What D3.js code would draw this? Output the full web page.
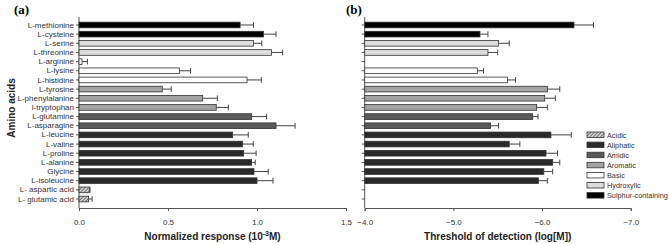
<!DOCTYPE html>
<html>
<head>
<meta charset="utf-8">
<script src="https://cdn.jsdelivr.net/npm/d3@7"></script>
<style>
  body { margin: 0; background: #fff; }
  svg text { font-family: "Liberation Sans", Arial, sans-serif; }
</style>
</head>
<body>
<div id="chart"></div>
<script>
// amino acids, top to bottom
const aminoAcids = ["L-methionine", "L-cysteine", "L-serine", "L-threonine", "L-arginine", "L-lysine",
  "L-histidine", "L-tyrosine", "L-phenylalanine", "l-tryptophan", "L-glutamine", "L-asparagine",
  "L-leucine", "L-valine", "L-proline", "L-alanine", "Glycine", "L-isoleucine",
  "L- aspartic acid", "L- glutamic acid"];
const groupOf = ["Sulphur-containing", "Sulphur-containing", "Hydroxylic", "Hydroxylic", "Basic", "Basic",
  "Basic", "Aromatic", "Aromatic", "Aromatic", "Amidic", "Amidic",
  "Aliphatic", "Aliphatic", "Aliphatic", "Aliphatic", "Aliphatic", "Aliphatic",
  "Acidic", "Acidic"];

// panel (a): normalized response
const responseA = [0.905, 1.037, 0.98, 1.082, 0.017, 0.564, 0.944, 0.468, 0.695, 0.771, 0.97, 1.107,
  0.863, 0.919, 0.925, 0.97, 0.983, 1.0, 0.058, 0.054];
const errorA = [0.075, 0.07, 0.047, 0.062, 0.03, 0.063, 0.08, 0.05, 0.082, 0.068, 0.084, 0.107,
  0.088, 0.06, 0.07, 0.02, 0.08, 0.09, 0.004, 0.02];

// panel (b): threshold of detection (null = not detected)
const thresholdB = [-6.36, -5.30, -5.51, -5.39, null, -5.27, -5.61, -6.06, -6.03, -5.94, -5.895, -5.42,
  -6.10, -5.63, -6.045, -6.12, -6.02, -5.96, null, null];
const errorB = [0.22, 0.09, 0.12, 0.11, 0, 0.07, 0.09, 0.14, 0.12, 0.12, 0.06, 0.09,
  0.23, 0.12, 0.13, 0.08, 0.10, 0.10, 0, 0];

const legendGroups = ["Acidic", "Aliphatic", "Amidic", "Aromatic", "Basic", "Hydroxylic", "Sulphur-containing"];
const groupFill = {
  "Acidic": "url(#hatch)",
  "Aliphatic": "#2a2a2a",
  "Amidic": "#5a5a5a",
  "Aromatic": "#a3a3a3",
  "Basic": "#ffffff",
  "Hydroxylic": "#dcdcdc",
  "Sulphur-containing": "#000000"
};

const ticksA = [0, 0.5, 1.0, 1.5];
const ticksB = [-4, -5, -6, -7];

const W = 669, H = 244;
const svg = d3.select("#chart").append("svg").attr("width", W).attr("height", H);

const defs = svg.append("defs");
const pat = defs.append("pattern").attr("id", "hatch").attr("patternUnits", "userSpaceOnUse")
  .attr("width", 2.5).attr("height", 2.5).attr("patternTransform", "rotate(45)");
pat.append("rect").attr("width", 2.5).attr("height", 2.5).attr("fill", "#cfcfcf");
pat.append("line").attr("x1", 0).attr("y1", 0).attr("x2", 0).attr("y2", 2.5)
  .attr("stroke", "#444").attr("stroke-width", 1.2);

const rows = aminoAcids.map((name, i) => ({ name, group: groupOf[i], a: responseA[i], ea: errorA[i], b: thresholdB[i], eb: errorB[i] }));

const y = d3.scaleBand().domain(aminoAcids).range([20.4, 203.6]).paddingInner(0.38).paddingOuter(0.19);
const yTop = 17, yBottom = 208;
const axisColor = "#555";

function styleAxis(g) {
  g.selectAll("path, line").attr("stroke", axisColor);
  g.selectAll("text").attr("fill", "#333").style("font-size", "8px");
}

// ---------- panel (a) ----------
const xA = d3.scaleLinear().domain([0, 1.5]).range([79, 346]);

const axA = svg.append("g").attr("transform", `translate(0,${yBottom})`)
  .call(d3.axisBottom(xA).tickValues(ticksA).tickFormat(d3.format(".1f")).tickSizeOuter(0).tickSize(3).tickPadding(8));
styleAxis(axA);

const ayA = svg.append("g").attr("transform", `translate(${xA(0)},0)`)
  .call(d3.axisLeft(y).tickSize(3).tickPadding(2));
ayA.select(".domain").remove();
styleAxis(ayA);
svg.append("line").attr("x1", xA(0)).attr("x2", xA(0)).attr("y1", yTop).attr("y2", yBottom).attr("stroke", axisColor);

const gA = svg.append("g");
gA.selectAll("rect").data(rows).join("rect")
  .attr("x", xA(0))
  .attr("y", d => y(d.name))
  .attr("width", d => xA(d.a) - xA(0))
  .attr("height", y.bandwidth())
  .attr("fill", d => groupFill[d.group])
  .attr("stroke", "#333").attr("stroke-width", 0.8);

const errA = gA.selectAll("g.err").data(rows).join("g").attr("class", "err");
errA.append("line")
  .attr("x1", d => xA(d.a)).attr("x2", d => xA(d.a + d.ea))
  .attr("y1", d => y(d.name) + y.bandwidth() / 2).attr("y2", d => y(d.name) + y.bandwidth() / 2)
  .attr("stroke", "#444");
errA.append("line")
  .attr("x1", d => xA(d.a + d.ea)).attr("x2", d => xA(d.a + d.ea))
  .attr("y1", d => y(d.name)).attr("y2", d => y(d.name) + y.bandwidth())
  .attr("stroke", "#444");

svg.append("text").attr("x", 14).attr("y", 14)
  .style("font-family", "'Liberation Serif', 'Times New Roman', serif")
  .style("font-weight", "bold").style("font-size", "13px").text("(a)");

svg.append("text")
  .attr("transform", `translate(15,108) rotate(-90)`)
  .attr("text-anchor", "middle")
  .style("font-weight", "bold").style("font-size", "10px").attr("fill", "#222")
  .text("Amino acids");

const labA = svg.append("text").attr("x", (xA(0) + xA(1.5)) / 2).attr("y", 240)
  .attr("text-anchor", "middle").style("font-weight", "bold").style("font-size", "10px").attr("fill", "#222");
labA.append("tspan").text("Normalized response (10");
labA.append("tspan").attr("dy", -4).style("font-size", "7px").text("-3");
labA.append("tspan").attr("dy", 4).text("M)");

// ---------- panel (b) ----------
const xB = d3.scaleLinear().domain([-4, -7]).range([364.7, 630.7]);

const axB = svg.append("g").attr("transform", `translate(0,${yBottom})`)
  .call(d3.axisBottom(xB).tickValues(ticksB).tickFormat(d3.format(".1f")).tickSizeOuter(0).tickSize(3).tickPadding(8));
styleAxis(axB);

const ayB = svg.append("g").attr("transform", `translate(${xB(-4)},0)`)
  .call(d3.axisLeft(y).tickSize(3).tickFormat(""));
ayB.select(".domain").remove();
styleAxis(ayB);
svg.append("line").attr("x1", xB(-4)).attr("x2", xB(-4)).attr("y1", yTop).attr("y2", yBottom).attr("stroke", axisColor);

const rowsB = rows.filter(d => d.b !== null);
const gB = svg.append("g");
gB.selectAll("rect").data(rowsB).join("rect")
  .attr("x", xB(-4))
  .attr("y", d => y(d.name))
  .attr("width", d => xB(d.b) - xB(-4))
  .attr("height", y.bandwidth())
  .attr("fill", d => groupFill[d.group])
  .attr("stroke", "#333").attr("stroke-width", 0.8);

const errB = gB.selectAll("g.err").data(rowsB).join("g").attr("class", "err");
errB.append("line")
  .attr("x1", d => xB(d.b)).attr("x2", d => xB(d.b - d.eb))
  .attr("y1", d => y(d.name) + y.bandwidth() / 2).attr("y2", d => y(d.name) + y.bandwidth() / 2)
  .attr("stroke", "#444");
errB.append("line")
  .attr("x1", d => xB(d.b - d.eb)).attr("x2", d => xB(d.b - d.eb))
  .attr("y1", d => y(d.name)).attr("y2", d => y(d.name) + y.bandwidth())
  .attr("stroke", "#444");

svg.append("text").attr("x", 346).attr("y", 14)
  .style("font-family", "'Liberation Serif', 'Times New Roman', serif")
  .style("font-weight", "bold").style("font-size", "13px").text("(b)");

svg.append("text").attr("x", (xB(-4) + xB(-7)) / 2).attr("y", 240)
  .attr("text-anchor", "middle").style("font-weight", "bold").style("font-size", "10px").attr("fill", "#222")
  .text("Threshold of detection (log[M])");

// ---------- legend ----------
const legend = svg.append("g").attr("transform", "translate(587,132)");
const li = legend.selectAll("g").data(legendGroups).join("g")
  .attr("transform", (d, i) => `translate(0,${i * 10.1})`);
li.append("rect").attr("width", 17).attr("height", 5.5)
  .attr("fill", d => groupFill[d]).attr("stroke", "#333").attr("stroke-width", 0.8);
li.append("text").attr("x", 20).attr("y", 5.8)
  .style("font-size", "7.3px").attr("fill", "#333").text(d => d);
</script>
</body>
</html>
